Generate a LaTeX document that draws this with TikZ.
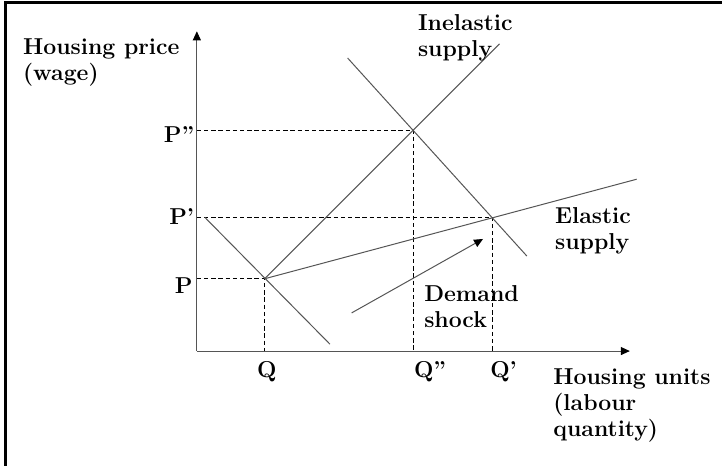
\documentclass[tikz,border=0pt]{standalone}
\usepackage{xcolor}
\usepackage{tikz}
\usetikzlibrary{arrows.meta}
\definecolor{curve}{HTML}{555555}
\tikzset{
  axis/.style={-{Triangle[length=4.5pt,width=4pt,black]}, curve, line width=0.5pt},
  sched/.style={curve, line width=0.5pt},
  guide/.style={black, line width=0.5pt, dash pattern=on 2.2pt off 1.4pt},
  shock/.style={-{Triangle[length=4.5pt,width=4pt,black]}, curve, line width=0.5pt},
  lbl/.style={inner sep=0pt, font=\fontsize{11.5}{13}\selectfont\bfseries, align=left},
  tick/.style={inner sep=0pt, font=\fontsize{11.5}{13}\selectfont\bfseries},
}

\begin{document}
\begin{tikzpicture}
  \useasboundingbox (-3.46,-2.02) rectangle (9.23,6.17);
  \draw[line width=1.5pt] (-3.36,-2.02) -- (-3.36,6.12) -- (9.23,6.12);
  % axes and equilibria
  \coordinate (O)    at (0,0);
  \coordinate (Ytop) at (0,5.62);
  \coordinate (Xend) at (7.61,0);
  \coordinate (E0)   at (1.19,1.27);
  \coordinate (E1)   at (5.20,2.35);
  \coordinate (E2)   at (3.81,3.88);
  \coordinate (D0a)  at (0.14,2.35);
  \coordinate (D0b)  at (2.34,0.12);
  \coordinate (D1a)  at (2.65,5.15);
  \coordinate (D1b)  at (5.80,1.67);
  \coordinate (Sin)  at (5.32,5.40);
  \coordinate (Sel)  at (7.73,3.02);
  \coordinate (Sh0)  at (2.72,0.67);
  \coordinate (Sh1)  at (5.03,1.97);
  \draw[axis] (O) -- (Ytop);
  \draw[axis] (O) -- (Xend);
  \draw[guide] (E0 -| O) -- (E0) -- (E0 |- O);
  \draw[guide] (E1 -| O) -- (E1) -- (E1 |- O);
  \draw[guide] (E2 -| O) -- (E2) -- (E2 |- O);
  \draw[sched] (D0a) -- (D0b);
  \draw[sched] (D1a) -- (D1b);
  \draw[sched] (E0) -- (Sin);
  \draw[sched] (E0) -- (Sel);
  \draw[shock] (Sh0) -- (Sh1);
  % labels (base = last line)
  \node[lbl, anchor=base west] (ylab) at (-3.06,4.76) {Housing price\\(wage)};
  \node[lbl, anchor=base west] (xlab) at (6.26,-1.51) {Housing units\\(labour\\quantity)};
  \node[lbl, anchor=base west] (inel) at (3.88,5.17) {Inelastic\\supply};
  \node[lbl, anchor=base west] (elas) at (6.29,1.78) {Elastic\\supply};
  \node[lbl, anchor=base west] (dem)  at (3.99,0.42) {Demand\\shock};
  \node[tick, anchor=base east] (Ppp) at (-0.04,3.66) {P''};
  \node[tick, anchor=base east] (Pp)  at (-0.04,2.23) {P'};
  \node[tick, anchor=base east] (P)   at (-0.07,1.02) {P};
  \node[tick, anchor=base]      (Q)   at (1.23,-0.46) {Q};
  \node[tick, anchor=base west] (Qpp) at (3.81,-0.46) {Q''};
  \node[tick, anchor=base west] (Qp)  at (5.15,-0.46) {Q'};
\end{tikzpicture}
\end{document}
